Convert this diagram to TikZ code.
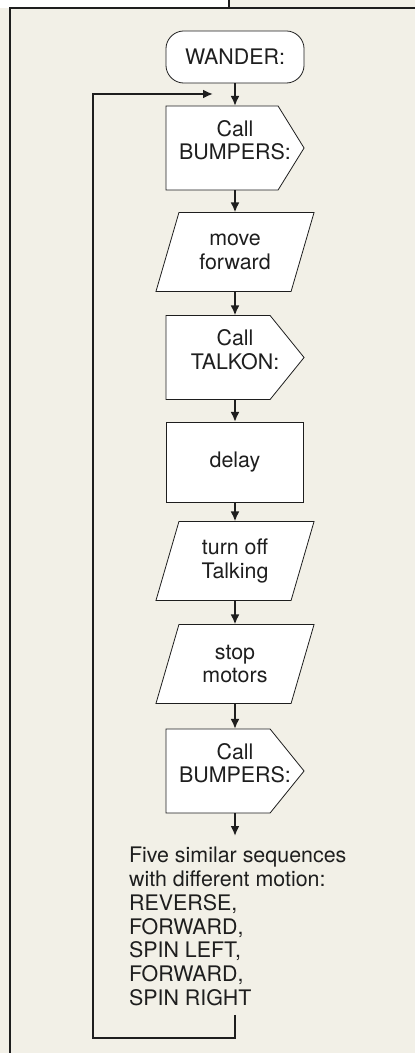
\documentclass[tikz,border=0pt]{standalone}
\usepackage{fontspec}
\setmainfont{TeX Gyre Heros}
\usetikzlibrary{arrows.meta,backgrounds}
\definecolor{carta}{HTML}{F2F0E7}
\definecolor{inchiostro}{HTML}{1E1E1E}

\begin{document}
\begin{tikzpicture}[x=0.5pt,y=-0.5pt,line width=1.05pt,
    blocco/.style={text=inchiostro, font=\fontsize{10.7}{11.9}\selectfont,
        align=center, inner sep=0pt},
    inizio/.style={blocco, minimum width=68pt, minimum height=25pt},
    chiamata/.style={blocco, minimum width=68pt, minimum height=41pt, text depth=8pt},
    azione/.style={blocco, minimum width=78pt, minimum height=38.5pt},
    processo/.style={blocco, minimum width=67.5pt, minimum height=39pt},
    contorno/.style={draw=inchiostro, fill=white},
    freccia/.style={draw=inchiostro, -{Latex[length=5pt,width=4.5pt]}}]
        % Blocchi
        \def\cx{235}
        \node[inizio] (wander) at (\cx,57) {WANDER:};
        \node[chiamata] (bump1) at (\cx,148) {Call\\BUMPERS:};
        \node[azione] (avanti) at (\cx,252) {move\\forward};
        \node[chiamata] (talkon) at (\cx,357.5) {Call\\TALKON:};
        \node[processo] (attesa) at (\cx,462) {delay};
        \node[azione] (parla) at (\cx,561) {turn off\\Talking};
        \node[azione] (ferma) at (\cx,664) {stop\\motors};
        \node[chiamata] (bump2) at (\cx,771) {Call\\BUMPERS:};
        \node[blocco, align=left, anchor=north west] (sequenze) at (128,846)
        {Five similar sequences\\with different motion:\\REVERSE,\\FORWARD,\\SPIN LEFT,\\FORWARD,\\SPIN RIGHT};
        % Sfondo, cornice e contorni
        \begin{scope}[on background layer]
            \fill[carta] (0,0) rectangle (415,1053);
            \fill[white] (0,0) rectangle (229,8);
            \draw[contorno, rounded corners=9pt] (wander.south west) rectangle (wander.north east);
            \draw[contorno] (attesa.south west) rectangle (attesa.north east);
            \foreach \n/\p in {bump1/13pt, talkon/17pt, bump2/17pt}
                \draw[contorno] (\n.north west) -- ([xshift=-\p]\n.north east) -- (\n.east)
                -- ([xshift=-\p]\n.south east) -- (\n.south west) -- cycle;
            \foreach \n in {avanti, parla, ferma}
                \draw[contorno] ([xshift=11.5pt]\n.north west) -- (\n.north east)
                -- ([xshift=-11.5pt]\n.south east) -- (\n.south west) -- cycle;
        \end{scope}
        \useasboundingbox (0,0) rectangle (415,1053);
        \draw[inchiostro] (229,0) -- (229,8);
        \draw[inchiostro] (415,8) -- (10,8) -- (10,1053);
        % Frecce
        \foreach \a/\b in {wander/bump1, bump1/avanti, avanti/talkon, talkon/attesa,
            attesa/parla, parla/ferma, ferma/bump2}
            \draw[freccia] (\a) -- (\b);
        \draw[freccia, shorten >=5pt] (bump2.south) -- (bump2.south |- sequenze.north);
        % Ritorno
        \coordinate (rientro) at (\cx,94);
        \coordinate (angolo) at (93,1038);
        \draw[freccia, shorten <=4pt, shorten >=11pt]
        (bump2.south |- sequenze.south) |- (angolo) |- (rientro);
    \end{tikzpicture}
\end{document}
